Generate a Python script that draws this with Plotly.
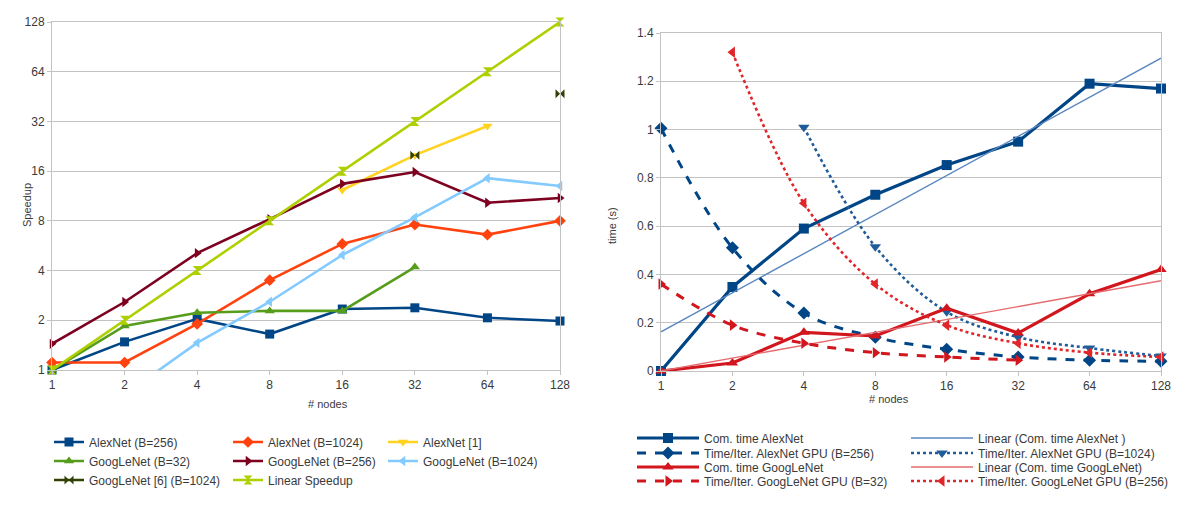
import numpy as np
import plotly.graph_objects as go

W, H = 1189, 511

# ---------------- data ----------------
nodes = [1, 2, 4, 8, 16, 32, 64, 128]
node_labels = ["1", "2", "4", "8", "16", "32", "64", "128"]

# left chart: speedup
alexnet_256 = [1.0, 1.48, 2.04, 1.65, 2.34, 2.38, 2.07, 1.98]
alexnet_1024 = [1.11, 1.11, 1.9, 3.5, 5.8, 7.6, 6.6, 8.0]
alexnet_ref1 = [None, None, None, None, 12.3, 20.0, 30.0, None]
googlenet_32 = [1.0, 1.85, 2.22, 2.28, 2.28, 4.2, None, None]
googlenet_256 = [1.44, 2.58, 5.1, 8.2, 13.4, 15.8, 10.3, 11.0]
googlenet_1024 = [None, 0.71, 1.46, 2.59, 4.97, 8.4, 14.5, 13.0]
googlenet_ref6 = [None, None, None, None, None, 20.0, None, 47.0]
linear_speedup = [1, 2, 4, 8, 16, 32, 64, 128]
speedup_ticks = [1, 2, 4, 8, 16, 32, 64, 128]

# right chart: time (s)
com_alexnet = [0.0, 0.348, 0.59, 0.73, 0.853, 0.95, 1.19, 1.17]
iter_alexnet_256 = [1.005, 0.51, 0.24, 0.14, 0.09, 0.058, 0.045, 0.04]
iter_alexnet_1024 = [None, None, 1.01, 0.515, 0.245, 0.14, 0.095, 0.062]
com_googlenet = [0.0, 0.033, 0.16, 0.145, 0.26, 0.157, 0.32, 0.42]
iter_googlenet_32 = [0.36, 0.19, 0.115, 0.076, 0.058, 0.045, None, None]
iter_googlenet_256 = [None, 1.32, 0.695, 0.36, 0.19, 0.115, 0.076, 0.058]


def trend(vals):
    idx = np.log2(nodes)
    k, b = np.polyfit(idx, np.array(vals, dtype=float), 1)
    return list(k * idx + b)


def px(x):
    return x / W


def py(y):
    return 1 - y / H


FONT = "Liberation Sans"
TXT = "#3a3a3a"
GRID = "#c3c3c3"

fig = go.Figure()

# ---------------- left chart traces ----------------
left = [
    ("AlexNet (B=256)", alexnet_256, "#004586", "square", "legend"),
    ("AlexNet (B=1024)", alexnet_1024, "#ff420e", "diamond", "legend2"),
    ("AlexNet [1]", alexnet_ref1, "#ffd320", "triangle-down", "legend3"),
    ("GoogLeNet (B=32)", googlenet_32, "#579d1c", "triangle-up", "legend"),
    ("GoogLeNet (B=256)", googlenet_256, "#7e0021", "triangle-right", "legend2"),
    ("GoogLeNet (B=1024)", googlenet_1024, "#83caff", "triangle-left", "legend3"),
    ("GoogLeNet [6] (B=1024)", googlenet_ref6, "#314004", "bowtie", "legend"),
    ("Linear Speedup", linear_speedup, "#aecf00", "hourglass", "legend2"),
]
for name, vals, col, sym, lg in left:
    fig.add_trace(go.Scatter(
        x=nodes, y=vals, name=name, mode="lines+markers",
        line=dict(color=col, width=2.6), marker=dict(symbol=sym, size=9, color=col),
        connectgaps=False, cliponaxis=False, xaxis="x", yaxis="y", legend=lg,
    ))

# ---------------- right chart traces ----------------
BLUE = "#004586"
BLUE_DOT = "#1f5c99"
RED = "#d2161e"
RED_DOT = "#e0262b"
right = [
    ("Com. time AlexNet", com_alexnet, BLUE, "square", "solid", 3.2, "linear", "legend4"),
    ("Linear (Com. time AlexNet )", trend(com_alexnet), "#5a87c0", None, "solid", 1.4, "linear", "legend4"),
    ("Time/Iter. AlexNet GPU (B=256)", iter_alexnet_256, BLUE, "diamond", "dash", 3.0, "spline", "legend5"),
    ("Time/Iter. AlexNet GPU (B=1024)", iter_alexnet_1024, BLUE_DOT, "triangle-down", "dot", 2.6, "spline", "legend5"),
    ("Com. time GoogLeNet", com_googlenet, RED, "triangle-up", "solid", 3.2, "linear", "legend6"),
    ("Linear (Com. time GoogLeNet)", trend(com_googlenet), "#e46b6f", None, "solid", 1.4, "linear", "legend6"),
    ("Time/Iter. GoogLeNet GPU (B=32)", iter_googlenet_32, RED, "triangle-right", "dash", 3.0, "spline", "legend7"),
    ("Time/Iter. GoogLeNet GPU (B=256)", iter_googlenet_256, RED_DOT, "triangle-left", "dot", 2.6, "spline", "legend7"),
]
for name, vals, col, sym, dash, wd, shape, lg in right:
    fig.add_trace(go.Scatter(
        x=nodes, y=vals, name=name,
        mode="lines+markers" if sym else "lines",
        line=dict(color=col, width=wd, dash=dash, shape=shape),
        marker=dict(symbol=sym, size=10, color=col) if sym else None,
        connectgaps=False, cliponaxis=False, xaxis="x2", yaxis="y2", legend=lg,
    ))

axis_common = dict(
    showline=True, linecolor=GRID, linewidth=1, mirror=True,
    ticks="outside", ticklen=4, tickcolor=GRID,
    tickfont=dict(family=FONT, size=12, color=TXT),
    zeroline=False,
)

log_nodes_range = [0, np.log10(128)]

fig.update_layout(
    width=W, height=H,
    margin=dict(l=0, r=0, t=0, b=0, autoexpand=False),
    paper_bgcolor="white", plot_bgcolor="white",
    font=dict(family=FONT, size=12, color=TXT),
    xaxis=dict(type="log", domain=[px(52), px(560)], range=log_nodes_range,
               tickvals=nodes, ticktext=node_labels, anchor="y", showgrid=False, **axis_common),
    yaxis=dict(type="log", domain=[py(370), py(22)], range=[0, np.log10(128)],
               tickvals=speedup_ticks, ticktext=[str(v) for v in speedup_ticks], anchor="x",
               showgrid=True, gridcolor=GRID, gridwidth=1, **axis_common),
    xaxis2=dict(type="log", domain=[px(661), px(1161)], range=log_nodes_range,
                tickvals=nodes, ticktext=node_labels, anchor="y2", showgrid=False, **axis_common),
    yaxis2=dict(domain=[py(371), py(33)], range=[0, 1.4], dtick=0.2, anchor="x2",
                showgrid=True, gridcolor=GRID, gridwidth=1, **axis_common),
    showlegend=True,
)

leg_font = dict(family=FONT, size=12, color=TXT)
# left legend: three columns
for lid, xl in (("legend", 49), ("legend2", 228), ("legend3", 383)):
    fig.update_layout({lid: dict(
        x=px(xl), y=py(427.5), xanchor="left", yanchor="top",
        orientation="v", bgcolor="rgba(0,0,0,0)", borderwidth=0,
        font=leg_font, itemwidth=30, tracegroupgap=0,
    )})
# right legend: four rows of two columns
for lid, yt in (("legend4", 423.5), ("legend5", 438.5), ("legend6", 452.5), ("legend7", 466.5)):
    fig.update_layout({lid: dict(
        x=px(632), y=py(yt), xanchor="left", yanchor="top",
        orientation="h", bgcolor="rgba(0,0,0,0)", borderwidth=0,
        font=leg_font, itemwidth=62, entrywidth=197, entrywidthmode="pixels",
    )})

# axis titles
ann = dict(xref="paper", yref="paper", showarrow=False, font=dict(family=FONT, size=11, color=TXT))
fig.add_annotation(text="Speedup", x=px(19), y=py(205), textangle=-90, **ann)
fig.add_annotation(text="# nodes", x=px(306), y=py(412), **ann)
fig.add_annotation(text="time (s)", x=px(612), y=py(226), textangle=-90, **ann)
fig.add_annotation(text="# nodes", x=px(911), y=py(407), **ann)

fig.write_html("out.html", config={"displayModeBar": False},
               post_script="document.body.style.margin='0px';")
